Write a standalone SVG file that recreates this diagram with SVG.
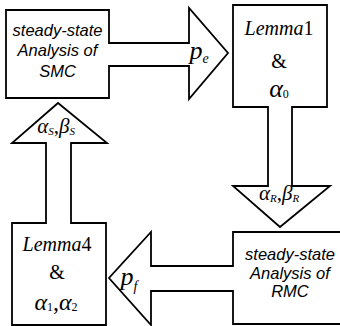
<svg xmlns="http://www.w3.org/2000/svg" width="340" height="326" viewBox="0 0 340 326">
<style>
.shape{fill:#fff;stroke:#000;stroke-width:1.8;stroke-linejoin:miter}
.sans{font-family:"Liberation Sans",Arial,sans-serif;font-style:italic;font-size:16.5px;text-anchor:middle;fill:#000}
.serif{font-family:"Liberation Serif","Times New Roman",serif;text-anchor:middle;fill:#000}
.it{font-style:italic}
</style>
<rect width="340" height="326" fill="#fff"/>
<g id="connectors">
<path class="shape" d="M6,10 H109 V43 H189 V8 L228,53 L189,99 V66 H109 V98 H6 Z"/>
<path class="shape" d="M233,5 H327 V107 H292 V186 H330 L280,227 L233,186 H268 V107 H233 Z"/>
<path class="shape" d="M345,232 H233 V266 H151 V232 L109,278 L151,325 V291 H233 V324 H345"/>
<path class="shape" d="M12,325 V223 H46 V143 H12 L58,103 L107,143 H71 V223 H106 V325 Z"/>
<text class="serif it" x="199" y="59" font-size="26" text-anchor="start">p<tspan font-size="14" dy="4">e</tspan></text>
<text class="serif it" x="129" y="285" font-size="26" text-anchor="start">p<tspan font-size="14" dy="6">f</tspan></text>
<text class="serif" x="279" y="200" font-size="21" text-anchor="middle"><tspan class="it">α</tspan><tspan font-size="11" dy="2" class="it">R</tspan><tspan dy="-2">,</tspan><tspan class="it">β</tspan><tspan font-size="11" dy="2" class="it">R</tspan></text>
<text class="serif" x="56" y="133" font-size="21" text-anchor="middle"><tspan class="it">α</tspan><tspan font-size="11" dy="2" class="it">S</tspan><tspan dy="-2">,</tspan><tspan class="it">β</tspan><tspan font-size="11" dy="2" class="it">S</tspan></text>
</g>
<g id="smc">
<text class="sans" x="57.5" y="36">steady-state</text>
<text class="sans" x="57.5" y="56">Analysis of</text>
<text class="sans" x="57.5" y="77">SMC</text>
</g>
<g id="lemma1">
<text class="serif" x="279" y="35" font-size="20"><tspan class="it">Lemma</tspan>1</text>
<text class="serif" x="279" y="68" font-size="20">&amp;</text>
<text class="serif" x="279" y="97" font-size="26"><tspan class="it">α</tspan><tspan font-size="12" dy="1">0</tspan></text>
</g>
<g id="rmc">
<text class="sans" x="290" y="260">steady-state</text>
<text class="sans" x="290" y="279">Analysis of</text>
<text class="sans" x="290" y="297">RMC</text>
</g>
<g id="lemma4">
<text class="serif" x="57" y="251" font-size="20"><tspan class="it">Lemma</tspan>4</text>
<text class="serif" x="57" y="279" font-size="20">&amp;</text>
<text class="serif" x="56" y="310" font-size="24"><tspan class="it">α</tspan><tspan font-size="12" dy="1">1</tspan><tspan dy="-1">,</tspan><tspan class="it">α</tspan><tspan font-size="12" dy="1">2</tspan></text>
</g>
</svg>
